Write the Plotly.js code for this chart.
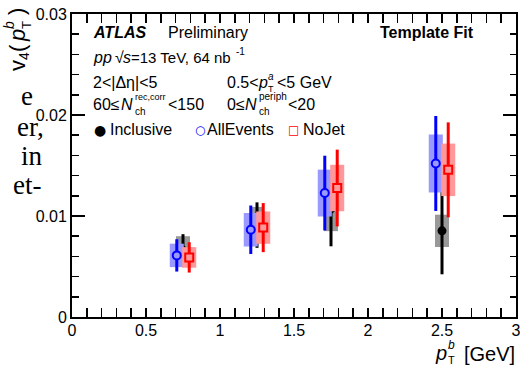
<!DOCTYPE html>
<html>
<head>
<meta charset="utf-8">
<script src="https://cdn.plot.ly/plotly-3.0.1.min.js"></script>
<style>html,body{margin:0;padding:0;background:#fff;}#chart{width:520px;height:367px;}</style>
</head>
<body>
<div id="chart"></div>
<script>
// ---- data ----
const ptBins = [0.75, 1.25, 1.75, 2.5];

const inclusiveV4   = [0.0066, 0.0091, 0.0107, 0.00853];
const inclusiveStat = [0.0016, 0.00225, 0.0037, 0.0043];
const inclusiveSys  = [0.0014, 0.0018, 0.0022, 0.0016];

const allEventsV4   = [0.0061, 0.00864, 0.01227, 0.0152];
const allEventsStat = [0.0016, 0.0024, 0.0037, 0.0047];
const allEventsSys  = [0.00116, 0.00166, 0.00232, 0.00287];

const noJetV4   = [0.0059, 0.00885, 0.01277, 0.01457];
const noJetStat = [0.0015, 0.00243, 0.0038, 0.0047];
const noJetSys  = [0.00102, 0.0016, 0.0023, 0.0026];

const xTickVals = [0, 0.5, 1, 1.5, 2, 2.5, 3];
const yTickVals = [0, 0.01, 0.02, 0.03];

// ---- style ----
const FONT = 'Liberation Sans, Arial, sans-serif';
const SERIF = 'Liberation Serif, Times New Roman, serif';
const shift = 0.042, boxW = 0.095;

function boxTrace(x, v, sys, color, yaxis) {
  return {type:'bar', x:x, y:sys.map(s=>2*s), base:v.map((c,i)=>c-sys[i]), width:boxW,
    marker:{color:color, line:{width:0}}, yaxis:yaxis, showlegend:false, hoverinfo:'skip'};
}
function pointTrace(x, v, stat, color, marker, yaxis, name) {
  return {type:'scatter', mode:'markers', x:x, y:v, name:name, yaxis:yaxis, showlegend:false,
    error_y:{type:'data', array:stat, visible:true, color:color, thickness:3, width:0},
    marker:marker};
}

const xInc = ptBins.slice();
const xAll = ptBins.map(p=>p-shift);
const xNo  = ptBins.map(p=>p+shift);

const data = [
  boxTrace(xInc, inclusiveV4, inclusiveSys, 'rgb(153,153,153)', 'y'),
  pointTrace(xInc, inclusiveV4, inclusiveStat, 'black', {symbol:'circle', size:9, color:'black'}, 'y', 'Inclusive'),
  boxTrace(xAll, allEventsV4, allEventsSys, 'rgb(153,153,255)', 'y2'),
  pointTrace(xAll, allEventsV4, allEventsStat, 'rgb(0,0,255)', {symbol:'circle', size:8, color:'rgb(153,153,255)', line:{color:'rgb(0,0,255)', width:2}}, 'y2', 'AllEvents'),
  boxTrace(xNo, noJetV4, noJetSys, 'rgb(255,153,153)', 'y3'),
  pointTrace(xNo, noJetV4, noJetStat, 'rgb(255,0,0)', {symbol:'square', size:8, color:'rgb(255,153,153)', line:{color:'rgb(255,0,0)', width:2}}, 'y3', 'NoJet')
];

// pixel helpers for text placement
const L = 72, R = 4, T = 14, B = 50, W = 520, H = 367;
const PW = W - L - R, PH = H - T - B;
function ann(text, px, py, o) {
  o = o || {};
  const a = {xref:'paper', yref:'paper', x:(px-L)/PW, y:(H-B-py)/PH, text:text, showarrow:false,
    xanchor:o.xanchor||'left', yanchor:o.yanchor||'middle', borderpad:0,
    font:{family:o.family||FONT, size:o.size||16, color:o.color||'black',
          weight:o.bold?'bold':'normal', style:o.italic?'italic':'normal'}};
  if (o.textangle !== undefined) a.textangle = o.textangle;
  return a;
}
const rot = (t, px, py, o) => ann(t, px, py, Object.assign({xanchor:'center', yanchor:'middle', textangle:-90}, o||{}));

const annotations = [
  ann('ATLAS', 92, 33, {bold:true, italic:true}),
  ann('Preliminary', 167, 33),
  ann('Template Fit', 475, 33, {xanchor:'right', bold:true}),
  ann('pp', 92, 58, {italic:true}),
  ann('√', 114, 58),
  ann('s', 122, 58, {italic:true}),
  ann('=13 TeV, 64 nb', 130, 58, {size:15}),
  ann('-1', 234.5, 52, {size:10}),
  ann('2&lt;|Δη|&lt;5', 92, 82),
  ann('0.5&lt;', 226, 82),
  ann('p', 257, 82, {italic:true}),
  ann('a', 267, 76.5, {size:10, italic:true}),
  ann('T', 267, 89, {size:9}),
  ann('&lt;5 GeV', 276, 82),
  ann('60≤', 92, 105),
  ann('N', 120, 105, {italic:true}),
  ann('rec,corr', 134, 97, {size:9}),
  ann('ch', 134, 111, {size:10}),
  ann('&lt;150', 167, 105),
  ann('0≤', 226, 105),
  ann('N', 244, 105, {italic:true}),
  ann('periph', 258, 96, {size:10}),
  ann('ch', 258, 111, {size:10}),
  ann('&lt;20', 287, 105),
  // legend
  ann('●', 100, 129.5, {xanchor:'center', size:14, family:'DejaVu Sans'}),
  ann('Inclusive', 109, 129.5),
  ann('○', 200, 129.5, {xanchor:'center', size:12, family:'DejaVu Sans', color:'rgb(0,0,255)', bold:true}),
  ann('AllEvents', 206, 129.5),
  ann('□', 293.5, 129.5, {xanchor:'center', size:12, family:'DejaVu Sans', color:'rgb(255,0,0)', bold:true}),
  ann('NoJet', 301.5, 129.5),
  // x axis title
  ann('p', 434, 353, {size:20, italic:true}),
  ann('b', 447, 344.5, {size:12, italic:true}),
  ann('T', 447, 359.5, {size:11}),
  ann('[GeV]', 516, 354, {xanchor:'right', size:20}),
  // y axis title (rotated, reading upwards)
  rot('v', 17, 66, {size:22}),
  rot('4', 24, 56, {size:14}),
  rot('(', 17, 48, {size:22}),
  rot('p', 17, 36, {size:22, italic:true}),
  rot('T', 26, 25, {size:13}),
  rot('b', 9, 25, {size:14, italic:true}),
  rot(')', 17, 12, {size:22}),
  // page text fragment on the left
  ann('e', 34, 96, {xanchor:'right', family:SERIF, size:27}),
  ann('er,', 45, 127, {xanchor:'right', family:SERIF, size:27}),
  ann('in', 44, 156, {xanchor:'right', family:SERIF, size:27}),
  ann('et-', 42, 185, {xanchor:'right', family:SERIF, size:27})
];

const axisCommon = {showline:true, linecolor:'black', linewidth:2, mirror:'allticks', ticks:'inside',
  tickcolor:'black', tickwidth:1.5, showgrid:false, zeroline:false, fixedrange:true,
  ticklabeloverflow:'allow', tickfont:{family:FONT, size:16, color:'black'}};

const layout = {
  width:W, height:H, margin:{l:L, r:R, t:T, b:B, pad:0},
  paper_bgcolor:'white', plot_bgcolor:'white', showlegend:false, barmode:'overlay',
  xaxis: Object.assign({}, axisCommon, {range:[0,3], tickvals:xTickVals, ticklen:9, ticklabelstandoff:-2,
    minor:{dtick:0.1, tick0:0, ticks:'inside', ticklen:4.5, tickwidth:1.5, tickcolor:'black', showgrid:false}}),
  yaxis: Object.assign({}, axisCommon, {range:[0,0.03], tickvals:yTickVals, ticklen:13,
    minor:{dtick:0.002, tick0:0, ticks:'inside', ticklen:6.5, tickwidth:1.5, tickcolor:'black', showgrid:false}}),
  yaxis2: {overlaying:'y', range:[0,0.03], visible:false, fixedrange:true},
  yaxis3: {overlaying:'y', range:[0,0.03], visible:false, fixedrange:true},
  annotations: annotations
};

Plotly.newPlot('chart', data, layout, {staticPlot:true, displayModeBar:false});
</script>
</body>
</html>
